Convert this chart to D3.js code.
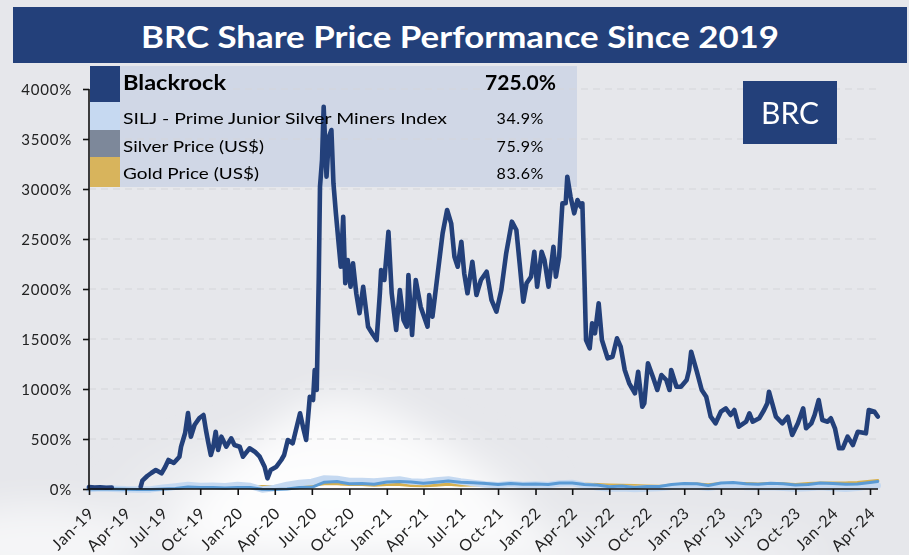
<!DOCTYPE html>
<html><head><meta charset="utf-8">
<script src="https://cdn.jsdelivr.net/npm/d3@7"></script>
<style>
html,body{margin:0;padding:0;background:#e6e7eb;}
svg{display:block;font-family:Lato, "Open Sans", sans-serif;}
</style></head>
<body><svg id="c" width="909" height="555"></svg>
<script>
// ---------------- DATA ----------------
const titleText = "BRC Share Price Performance Since 2019";
const tickerLabel = "BRC";
const yTicks = [0, 500, 1000, 1500, 2000, 2500, 3000, 3500, 4000];
const xTickDates = ["2019-01-01","2019-04-01","2019-07-01","2019-10-01","2020-01-01","2020-04-01","2020-07-01","2020-10-01",
  "2021-01-01","2021-04-01","2021-07-01","2021-10-01","2022-01-01","2022-04-01","2022-07-01","2022-10-01",
  "2023-01-01","2023-04-01","2023-07-01","2023-10-01","2024-01-01","2024-04-01"];
const seriesNames = ["Blackrock","SILJ - Prime Junior Silver Miners Index","Silver Price (US$)","Gold Price (US$)"];
const seriesReturns = ["725.0%","34.9%","75.9%","83.6%"];

const brDates = ["2019-01-01","2019-01-15","2019-01-28","2019-02-12","2019-02-26","2019-03-15",
"2019-05-08","2019-05-12","2019-05-24","2019-06-03","2019-06-14","2019-06-28","2019-07-07","2019-07-15","2019-07-28",
"2019-08-11","2019-08-15","2019-08-25","2019-09-01","2019-09-08","2019-09-17","2019-09-29","2019-10-09","2019-10-15",
"2019-10-21","2019-10-27","2019-11-02","2019-11-08","2019-11-14","2019-11-22","2019-12-04","2019-12-16","2019-12-24",
"2020-01-06","2020-01-14","2020-01-30","2020-02-12","2020-02-24","2020-03-07","2020-03-14","2020-03-22","2020-04-05",
"2020-04-17","2020-04-24","2020-05-03","2020-05-15","2020-06-02","2020-06-11","2020-06-17","2020-06-26","2020-07-04",
"2020-07-08","2020-07-13","2020-07-18","2020-07-21","2020-07-26","2020-07-30","2020-08-06","2020-08-12","2020-08-18",
"2020-08-23","2020-08-29","2020-09-06","2020-09-10","2020-09-16","2020-09-21","2020-09-27","2020-10-04","2020-10-10",
"2020-10-18","2020-10-26","2020-11-04","2020-11-16","2020-11-27","2020-12-07","2020-12-15","2020-12-18","2020-12-26",
"2021-01-05","2021-01-13","2021-01-24","2021-02-02","2021-02-11","2021-02-19","2021-02-23","2021-03-04","2021-03-13",
"2021-03-25","2021-04-11","2021-04-15","2021-04-23","2021-05-06","2021-05-18","2021-05-29","2021-06-08","2021-06-16",
"2021-06-24","2021-07-03","2021-07-10","2021-07-18","2021-07-30","2021-08-09","2021-08-20","2021-09-03","2021-09-15",
"2021-09-27","2021-10-09","2021-10-21","2021-11-04","2021-11-15","2021-11-23","2021-12-02","2021-12-10","2021-12-21",
"2021-12-29","2022-01-05","2022-01-16","2022-01-23","2022-02-02","2022-02-14","2022-02-20","2022-02-28","2022-03-08",
"2022-03-16","2022-03-20","2022-03-28","2022-04-06","2022-04-14","2022-04-22","2022-04-26","2022-05-01","2022-05-05",
"2022-05-14","2022-05-20","2022-05-27","2022-06-05","2022-06-13","2022-06-27","2022-07-09","2022-07-20","2022-07-29",
"2022-08-08","2022-08-19","2022-09-02","2022-09-10","2022-09-20","2022-09-25","2022-10-04","2022-10-16","2022-10-27",
"2022-11-06","2022-11-18","2022-11-26","2022-11-30","2022-12-13","2022-12-24","2023-01-07","2023-01-13","2023-01-18",
"2023-02-01","2023-02-13","2023-02-24","2023-03-07","2023-03-19","2023-04-01","2023-04-13","2023-04-25","2023-05-04",
"2023-05-15","2023-06-02","2023-06-10","2023-06-18","2023-07-04","2023-07-16","2023-07-24","2023-07-28","2023-08-05",
"2023-08-14","2023-08-30","2023-09-12","2023-09-23","2023-10-07","2023-10-20","2023-10-27","2023-11-09","2023-11-17",
"2023-11-27","2023-12-06","2023-12-19","2023-12-27","2024-01-06","2024-01-16","2024-01-25","2024-02-06","2024-02-19",
"2024-03-02","2024-03-22","2024-03-29","2024-04-12","2024-04-20"];
const brValues = [20,15,18,12,15,null,
23,83,130,160,190,157,220,290,260,
323,423,560,760,523,640,710,740,590,
460,340,423,573,390,523,423,507,440,
423,323,407,373,323,223,107,190,223,
290,340,490,457,757,590,490,923,890,
1190,990,2123,3023,3290,3823,3123,3523,3590,
3057,2757,2400,2223,2723,2057,2290,2023,2257,
1957,1757,2023,1623,1550,1490,1960,2190,2090,
2573,1957,1590,1990,1690,1623,2140,1540,2090,
1823,1623,1940,1723,2157,2557,2790,2657,2323,
2223,2473,2157,1957,2273,1940,2090,2173,1890,
1773,1990,2357,2673,2590,2257,1873,2057,2123,
2373,2023,2373,2290,2023,2423,2123,2323,2857,
2857,3123,2923,2757,2890,2823,2857,2123,1490,
1407,1657,1557,1857,1490,1307,1323,1507,1423,
1190,1057,957,1173,823,857,1257,1123,990,
1140,1090,990,1190,1023,1023,1090,1190,1373,
1173,990,923,723,657,773,807,740,790,
623,673,757,673,707,790,857,973,857,
723,657,723,540,657,807,607,657,740,
890,690,673,707,607,407,407,523,440,
573,557,790,773,725];

const cmDates = ["2019-01-01","2019-02-01","2019-03-01","2019-04-01","2019-05-01","2019-06-01","2019-07-01","2019-08-01","2019-09-01","2019-10-01","2019-11-01","2019-12-01",
"2020-01-01","2020-02-01","2020-03-01","2020-04-01","2020-05-01","2020-06-01","2020-07-01","2020-08-01","2020-09-01","2020-10-01","2020-11-01","2020-12-01",
"2021-01-01","2021-02-01","2021-03-01","2021-04-01","2021-05-01","2021-06-01","2021-07-01","2021-08-01","2021-09-01","2021-10-01","2021-11-01","2021-12-01",
"2022-01-01","2022-02-01","2022-03-01","2022-04-01","2022-05-01","2022-06-01","2022-07-01","2022-08-01","2022-09-01","2022-10-01","2022-11-01","2022-12-01",
"2023-01-01","2023-02-01","2023-03-01","2023-04-01","2023-05-01","2023-06-01","2023-07-01","2023-08-01","2023-09-01","2023-10-01","2023-11-01","2023-12-01",
"2024-01-01","2024-02-01","2024-03-01","2024-04-01","2024-04-20"];
const goldValues = [0,3,2,1,0,4,10,11,18,15,18,14,
18,23,25,24,32,35,39,53,53,47,46,39,
47,45,35,33,38,48,38,41,41,37,39,39,
42,40,48,50,48,44,40,37,33,30,27,38,
42,50,42,54,55,53,49,53,51,44,55,59,
60,60,63,77,83.6];
const silverValues = [0,2,-1,-3,-4,-6,-1,5,19,14,15,10,
16,15,-3,-4,-1,16,17,68,74,53,54,48,
70,74,70,57,68,79,68,63,55,44,55,48,
50,46,61,59,45,39,23,29,16,26,26,45,
55,52,35,60,65,52,47,58,52,39,45,61,
54,48,50,65,75.9];
const siljValues = [0,8,2,-3,-8,-4,12,25,40,30,32,28,
40,30,-10,10,40,60,70,105,100,80,80,75,
85,95,75,70,85,95,75,60,45,38,50,40,
45,40,55,60,35,18,5,8,0,5,10,22,
32,25,12,30,35,20,18,20,12,5,10,20,
10,2,12,30,34.9];

// ---------------- DRAW ----------------
const parse = d3.timeParse("%Y-%m-%d");
const fmtTick = d3.timeFormat("%b-%y");
const svg = d3.select("#c");
const W = 909, H = 555;
const navy = "#23407a";

const defs = svg.append("defs");
const rg = defs.append("radialGradient").attr("id","cloud");
rg.append("stop").attr("offset","0%").attr("stop-color","#ffffff").attr("stop-opacity",1);
rg.append("stop").attr("offset","50%").attr("stop-color","#ffffff").attr("stop-opacity",0.7);
rg.append("stop").attr("offset","100%").attr("stop-color","#ffffff").attr("stop-opacity",0);
const blur = defs.append("filter").attr("id","blur").attr("x","-50%").attr("y","-50%").attr("width","200%").attr("height","200%");
blur.append("feGaussianBlur").attr("stdDeviation",18);

svg.append("rect").attr("width",W).attr("height",H).attr("fill","#e6e7eb");
const bg = svg.append("g").attr("filter","url(#blur)");
bg.append("path").attr("d","M150,555 C220,470 280,400 335,395 C400,400 470,450 560,555 Z").attr("fill","#ffffff").attr("opacity",0.75);
bg.append("ellipse").attr("cx",330).attr("cy",500).attr("rx",230).attr("ry",80).attr("fill","url(#cloud)").attr("opacity",0.8);
bg.append("ellipse").attr("cx",40).attr("cy",545).attr("rx",110).attr("ry",40).attr("fill","#ffffff").attr("opacity",0.6);
bg.append("ellipse").attr("cx",620).attr("cy",555).attr("rx",200).attr("ry",30).attr("fill","#ffffff").attr("opacity",0.35);

// title bar
svg.append("rect").attr("x",13).attr("y",7).attr("width",894).attr("height",56).attr("fill",navy);
svg.append("text").attr("x",460).attr("y",48).attr("text-anchor","middle")
  .attr("fill","#fff").attr("font-weight",700).attr("font-size",30)
  .attr("textLength",638).attr("lengthAdjust","spacingAndGlyphs").text(titleText);

const x = d3.scaleTime().domain([parse("2019-01-01"), parse("2024-04-01")]).range([89, 870]);
const y = d3.scaleLinear().domain([0, 4000]).range([489, 89]);

// legend box (under lines)
const lg = svg.append("g");
lg.append("rect").attr("x",90).attr("y",66).attr("width",487).attr("height",121).attr("fill","#cdd5e5").attr("opacity",0.93);

// gridlines
const grid = svg.append("g");
grid.selectAll("line").data(yTicks.filter(d=>d>0)).join("line")
  .attr("x1",89).attr("x2",880).attr("y1",d=>y(d)).attr("y2",d=>y(d))
  .attr("stroke","#d4d5d9").attr("stroke-width",1.2).attr("stroke-dasharray","7,5");

// legend swatches above grid
const swatchColors = [navy, "#c6d9f1", "#7d889a", "#d8b45c"];
const rowY = [66, 102, 130, 157, 187];
swatchColors.forEach((c,i)=>{
  svg.append("rect").attr("x",90).attr("y",rowY[i]).attr("width",30).attr("height",rowY[i+1]-rowY[i]).attr("fill",c);
});

// series
const brData = brDates.map((d,i)=>({date:parse(d), v:brValues[i]}));
const mk = vals => cmDates.map((d,i)=>({date:parse(d), v:vals[i]}));
const line = d3.line().defined(d=>d.v!==null).x(d=>x(d.date)).y(d=>Math.min(y(d.v), 489.5));
const lines = svg.append("g").attr("fill","none").attr("stroke-linejoin","round").attr("stroke-linecap","round");
lines.append("path").datum(mk(goldValues)).attr("d",line).attr("stroke","#d6b04f").attr("stroke-width",3.2);
lines.append("path").datum(mk(siljValues)).attr("d",line).attr("stroke","#c5d9f1").attr("stroke-width",6.5);
lines.append("path").datum(mk(silverValues)).attr("d",line).attr("stroke","#5b9bd5").attr("stroke-width",3);
lines.append("path").datum(brData).attr("d",line).attr("stroke",navy).attr("stroke-width",4.6);

// axes
const yAxis = svg.append("g").attr("transform","translate(89,0)")
  .call(d3.axisLeft(y).tickValues(yTicks).tickSize(6).tickFormat(d=>d+"%"));
const xAxis = svg.append("g").attr("transform","translate(0,489)")
  .call(d3.axisBottom(x).tickValues(xTickDates.map(parse)).tickSize(6).tickFormat(fmtTick));
[yAxis,xAxis].forEach(a=>{
  a.select(".domain").attr("stroke","#111").attr("stroke-width",1.6);
  a.selectAll(".tick line").attr("stroke","#111").attr("stroke-width",1.6);
  a.selectAll("text").attr("font-family","Lato, sans-serif").attr("font-size",15).attr("fill","#222").attr("letter-spacing",0.8);
});
yAxis.select(".domain").attr("d","M-0,89V489");
yAxis.selectAll("text").attr("x",-17).attr("dy","0.35em");
xAxis.select(".domain").attr("d","M89,0H878");
xAxis.selectAll("text").attr("text-anchor","end").attr("dy",0).attr("y",0).attr("font-size",16)
  .attr("transform","translate(6,25) rotate(-45)");

// legend text
const tg = svg.append("g").attr("fill","#000");
tg.append("text").attr("x",123).attr("y",90).attr("font-size",21).attr("font-weight",700)
  .attr("textLength",103).attr("lengthAdjust","spacingAndGlyphs").text(seriesNames[0]);
tg.append("text").attr("x",556).attr("y",90).attr("font-size",21).attr("font-weight",700).attr("text-anchor","end").text(seriesReturns[0]);
const rowBase = [124, 152, 179];
const rowW = [324, 141, 136];
[1,2,3].forEach((k,i)=>{
  tg.append("text").attr("x",123).attr("y",rowBase[i]).attr("font-size",16)
    .attr("textLength",rowW[i]).attr("lengthAdjust","spacingAndGlyphs").text(seriesNames[k]);
  tg.append("text").attr("x",544).attr("y",rowBase[i]).attr("font-size",16).attr("text-anchor","end")
    .attr("letter-spacing",0.6).text(seriesReturns[k]);
});

// ticker box
svg.append("rect").attr("x",743).attr("y",81).attr("width",94).attr("height",63).attr("fill",navy);
svg.append("text").attr("x",790).attr("y",124).attr("text-anchor","middle").attr("fill","#fff")
  .attr("font-size",30).text(tickerLabel);
</script></body></html>
